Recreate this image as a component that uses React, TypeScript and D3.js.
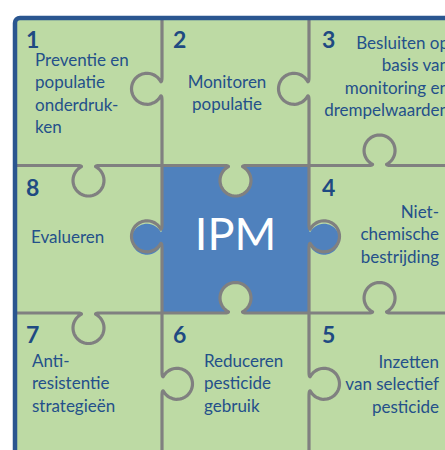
import * as d3 from 'd3'
import { useRef, useEffect } from 'react'

// puzzle pieces, clockwise from top left; the IPM piece sits in the middle
const steps = ['1', '2', '3', '4', '5', '6', '7', '8']
const stepCols = [0, 1, 2, 2, 2, 1, 0, 0]
const stepRows = [0, 0, 0, 1, 2, 2, 2, 1]
const stepLabels = [
  ['Preventie en', 'populatie', 'onderdruk-', 'ken'],
  ['Monitoren', 'populatie'],
  ['Besluiten op', 'basis van', 'monitoring en', 'drempelwaarden'],
  ['Niet-', 'chemische', 'bestrijding'],
  ['Inzetten', 'van selectief', 'pesticide'],
  ['Reduceren', 'pesticide', 'gebruik'],
  ['Anti-', 'resistentie', 'strategieën'],
  ['Evalueren']
]
const centerLabel = 'IPM'

type Pt = [number, number]

const App = () => {
  const ref = useRef<SVGSVGElement>(null)

  useEffect(() => {
    drawPuzzle()
  }, [])

  const drawPuzzle = () => {
    const width = 445
    const height = 450
    const green = '#bddaa4'
    const blue = '#4f81bd'
    const navy = '#2a5690'
    const textBlue = '#24508a'
    const grey = '#808080'
    const font = 'Lato, "Open Sans", sans-serif'

    const x = d3.scaleLinear().domain([0, 3]).range([15, 456])
    const y = d3.scaleLinear().domain([0, 3]).range([18, 460.5])

    const svg = d3
      .select(ref.current)
      .attr('width', width)
      .attr('height', height)
    svg.selectAll('*').remove()

    // knob shape: head radius, head centre depth, neck half width, fillet
    const r = 15.5
    const dHead = 15
    const neck = 7
    const fil = 5

    const edgePoints = (p0: Pt, p1: Pt, pos: number, dir: Pt | null): Pt[] => {
      const L = Math.hypot(p1[0] - p0[0], p1[1] - p0[1])
      const u: Pt = [(p1[0] - p0[0]) / L, (p1[1] - p0[1]) / L]
      const local: Pt[] = [[0, 0]]
      if (dir) {
        const s = pos * L
        const y0 = dHead - Math.sqrt(r * r - neck * neck)
        const quad = (a: Pt, b: Pt, c: Pt, t: number): Pt => [
          (1 - t) * (1 - t) * a[0] + 2 * (1 - t) * t * b[0] + t * t * c[0],
          (1 - t) * (1 - t) * a[1] + 2 * (1 - t) * t * b[1] + t * t * c[1]
        ]
        for (let i = 0; i <= 6; i++) {
          local.push(quad([s - neck - fil, 0], [s - neck, 0], [s - neck, y0], i / 6))
        }
        const a0 = Math.atan2(y0 - dHead, -neck) + 2 * Math.PI
        const a1 = Math.atan2(y0 - dHead, neck)
        const n = 40
        for (let i = 1; i < n; i++) {
          const a = a0 + ((a1 - a0) * i) / n
          local.push([s + r * Math.cos(a), dHead + r * Math.sin(a)])
        }
        for (let i = 0; i <= 6; i++) {
          local.push(quad([s + neck, y0], [s + neck, 0], [s + neck + fil, 0], i / 6))
        }
      }
      local.push([L, 0])
      return local.map(([t, h]) => {
        const hx = dir ? dir[0] * h : 0
        const hy = dir ? dir[1] * h : 0
        return [p0[0] + t * u[0] + hx, p0[1] + t * u[1] + hy] as Pt
      })
    }

    const up: Pt = [0, -1]
    const down: Pt = [0, 1]
    const left: Pt = [-1, 0]
    const right: Pt = [1, 0]

    // background board
    svg
      .append('rect')
      .attr('x', x(0))
      .attr('y', y(0))
      .attr('width', x(3) - x(0) + 10)
      .attr('height', y(3) - y(0) + 10)
      .attr('fill', green)

    // blue centre piece
    const c0 = x(1), c1 = x(2), r0 = y(1), r1 = y(2)
    const blueOutline = [
      ...edgePoints([c0, r0], [c1, r0], 0.5, down),
      ...edgePoints([c1, r0], [c1, r1], 0.5, right),
      ...edgePoints([c1, r1], [c0, r1], 0.5, up),
      ...edgePoints([c0, r1], [c0, r0], 0.5, left)
    ]
    const line = d3.line<Pt>()
    svg
      .append('path')
      .attr('d', line(blueOutline) + 'Z')
      .attr('fill', blue)

    // grid edges between the pieces
    const edges: { p0: Pt; p1: Pt; pos: number; dir: Pt | null }[] = []
    const vDirs = [
      [left, left, right],
      [left, right, right]
    ]
    const hDirs = [
      [down, down, up],
      [down, up, up]
    ]
    ;[1, 2].forEach((col, i) => {
      ;[0, 1, 2].forEach((row) => {
        edges.push({ p0: [x(col), y(row)], p1: [x(col), y(row + 1)], pos: 0.48, dir: vDirs[i][row] })
      })
    })
    ;[1, 2].forEach((row, i) => {
      ;[0, 1, 2].forEach((col) => {
        edges.push({
          p0: [x(col), y(row)],
          p1: [x(col + 1), y(row)],
          pos: col === 2 ? 0.48 : 0.5,
          dir: hDirs[i][col]
        })
      })
    })

    svg
      .append('g')
      .selectAll('path')
      .data(edges)
      .enter()
      .append('path')
      .attr('d', (d) => line(edgePoints(d.p0, d.p1, d.pos, d.dir)))
      .attr('fill', 'none')
      .attr('stroke', grey)
      .attr('stroke-width', 3.2)
      .attr('stroke-linejoin', 'round')

    // navy frame on the top and left side
    const frame = d3.path()
    frame.moveTo(x(0), y(3))
    frame.lineTo(x(0), y(0) + 5)
    frame.arcTo(x(0), y(0), x(0) + 5, y(0), 5)
    frame.lineTo(x(3) + 10, y(0))
    svg
      .append('path')
      .attr('d', frame.toString())
      .attr('fill', 'none')
      .attr('stroke', navy)
      .attr('stroke-width', 4.5)

    // text layout per piece: anchor, x offset, first baseline offset
    const textAnchor = ['start', 'middle', 'end', 'end', 'end', 'start', 'start', 'start']
    const textDx = [20, 65, 140, 130, 130, 42, 17, 16]
    const textDy = [48, 70, 31, 52.5, 55, 54, 54, 77.5]
    const lineH = 22.3

    const cells = svg
      .append('g')
      .selectAll('g')
      .data(steps)
      .enter()
      .append('g')
      .attr('transform', (d, i) => 'translate(' + x(stepCols[i]) + ',' + y(stepRows[i]) + ')')

    cells
      .append('text')
      .attr('x', (d, i) => (stepCols[i] === 2 ? 13 : 11))
      .attr('y', 30)
      .attr('font-family', font)
      .attr('font-weight', 700)
      .attr('font-size', 23)
      .attr('fill', '#1f4a82')
      .text((d) => d)

    cells
      .append('text')
      .attr('font-family', font)
      .attr('font-size', 17)
      .attr('fill', textBlue)
      .attr('text-anchor', (d, i) => textAnchor[i])
      .each(function (d, i) {
        d3.select(this)
          .selectAll('tspan')
          .data(stepLabels[i])
          .enter()
          .append('tspan')
          .attr('x', textDx[i])
          .attr('y', (t, j) => textDy[i] + j * lineH)
          .text((t) => t)
      })

    svg
      .append('text')
      .attr('x', (c0 + c1) / 2)
      .attr('y', 250)
      .attr('text-anchor', 'middle')
      .attr('font-family', font)
      .attr('font-size', 45)
      .attr('fill', '#ffffff')
      .text(centerLabel)
  }

  return (
    <div style={{ position: 'absolute', left: 0, top: 0 }}>
      <svg ref={ref} style={{ display: 'block', background: '#ffffff' }}></svg>
    </div>
  )
}

export default App
